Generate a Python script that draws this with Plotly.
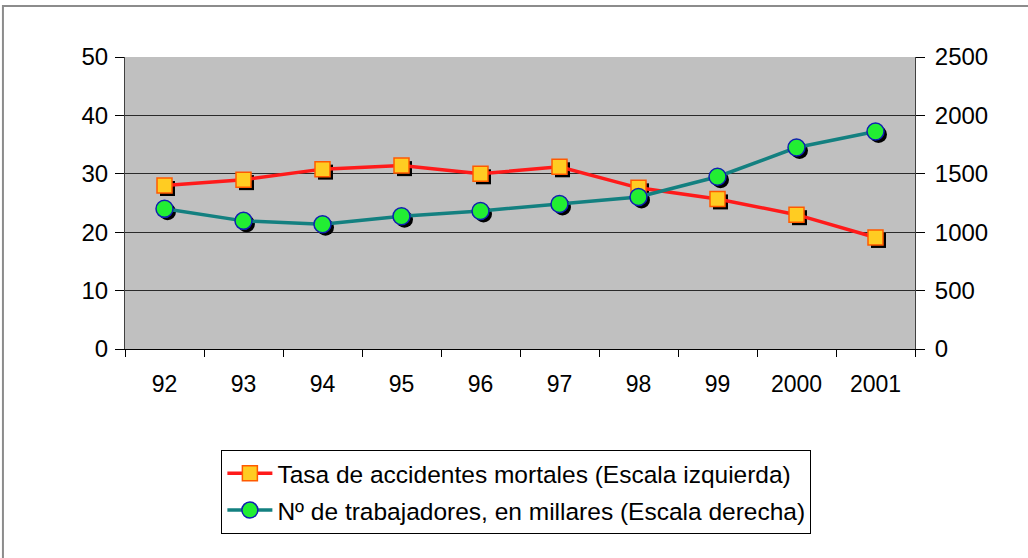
import plotly.graph_objects as go

# data
years = ["92", "93", "94", "95", "96", "97", "98", "99", "2000", "2001"]
tasa_mortales = [28.0, 29.0, 30.8, 31.4, 30.0, 31.2, 27.6, 25.7, 23.0, 19.1]
trabajadores = [1200, 1097, 1068, 1136, 1182, 1241, 1302, 1475, 1725, 1862]

name_tasa = "Tasa de accidentes mortales (Escala izquierda)"
name_trab = "Nº de trabajadores, en millares (Escala derecha)"

FONT = "Liberation Sans, Arial, sans-serif"
RED = "#ff1a1a"
TEAL = "#138080"

# shadow offset of the markers (about 3 px down/right), in axis units
dx = 3 / 79
dy_left = 50 * 3 / 292
dy_right = 2500 * 3 / 292

fig = go.Figure()

# marker shadows, drawn on the hidden base subplot with shifted ranges
fig.add_trace(go.Scatter(
    x=years, y=tasa_mortales, mode="markers", xaxis="x", yaxis="y",
    marker=dict(symbol="square", size=15, color="black"),
    showlegend=False, hoverinfo="skip"
))
fig.add_trace(go.Scatter(
    x=years, y=trabajadores, mode="markers", xaxis="x", yaxis="y2",
    marker=dict(symbol="circle", size=17, color="black"),
    showlegend=False, hoverinfo="skip"
))

# visible series
fig.add_trace(go.Scatter(
    x=years, y=tasa_mortales, mode="lines+markers", name=name_tasa,
    xaxis="x2", yaxis="y3", legendgroup="a",
    line=dict(color=RED, width=3.5),
    marker=dict(symbol="square", size=15, color="#ffcc22",
                line=dict(color="#ff5a00", width=1.5))
))
fig.add_trace(go.Scatter(
    x=years, y=trabajadores, mode="lines+markers", name=name_trab,
    xaxis="x2", yaxis="y4", legendgroup="b",
    line=dict(color=TEAL, width=3.5),
    marker=dict(symbol="circle", size=17, color="#22ee33",
                line=dict(color="#1020b0", width=1.5))
))

hidden = dict(visible=False, showgrid=False, zeroline=False, fixedrange=True)

fig.update_layout(
    width=1028,
    height=558,
    margin=dict(l=125, r=113, t=57, b=209),
    paper_bgcolor="white",
    plot_bgcolor="#c0c0c0",
    font=dict(family=FONT, color="black"),
    xaxis=dict(type="category", range=[-0.5 - dx, 9.5 - dx], **hidden),
    yaxis=dict(range=[dy_left, 50 + dy_left], **hidden),
    yaxis2=dict(range=[dy_right, 2500 + dy_right], overlaying="y", **hidden),
    xaxis2=dict(
        type="category", overlaying="x", anchor="y3",
        range=[-0.5, 9.5],
        showline=True, linecolor="black", linewidth=1,
        ticks="outside", tickson="boundaries", ticklen=7,
        tickcolor="black", tickwidth=1,
        showgrid=False, zeroline=False,
        tickfont=dict(size=23, family=FONT),
        ticklabelstandoff=14,
    ),
    yaxis3=dict(
        overlaying="y", anchor="x2", side="left",
        range=[0, 50], dtick=10,
        showline=True, linecolor="#404040", linewidth=1,
        ticks="outside", ticklen=9, tickcolor="black",
        showgrid=True, gridcolor="#2a2a2a", gridwidth=1,
        zeroline=False,
        tickfont=dict(size=24, family=FONT),
        ticklabelstandoff=2,
    ),
    yaxis4=dict(
        overlaying="y", anchor="x2", side="right",
        range=[0, 2500], dtick=500,
        showline=True, linecolor="#404040", linewidth=1,
        ticks="outside", ticklen=9, tickcolor="black",
        showgrid=False, zeroline=False,
        tickfont=dict(size=24, family=FONT),
        ticklabelstandoff=5,
    ),
    legend=dict(
        x=0.122, y=-0.345, xanchor="left", yanchor="top",
        bgcolor="white", bordercolor="black", borderwidth=1,
        font=dict(size=24.5, family=FONT),
        itemwidth=45,
        traceorder="grouped", tracegroupgap=2,
    ),
    showlegend=True,
)

# thin grey frame around the whole chart
fig.add_shape(
    type="rect", xref="paper", yref="paper",
    x0=-0.1545, x1=1.2, y0=-0.75, y1=1.175,
    line=dict(color="#8c8c8c", width=2), layer="below"
)

# drop the page's default body margin so the chart sits at the top-left corner
fig.write_html(
    "out.html",
    config={"displayModeBar": False},
    post_script="document.body.style.margin='0';",
)
